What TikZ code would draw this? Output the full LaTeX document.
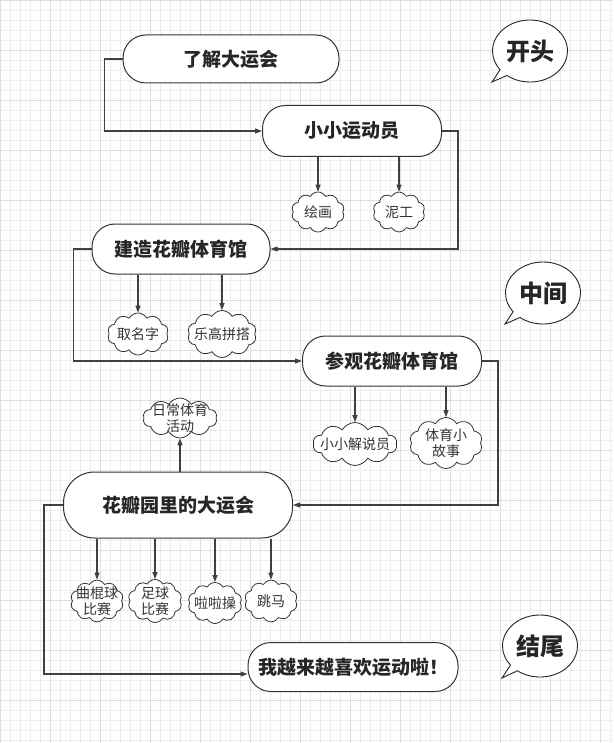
\documentclass[tikz,border=0pt]{standalone}
\usepackage{fontspec}
\setmainfont{Noto Sans CJK SC}
\usetikzlibrary{arrows.meta,shapes.symbols,shapes.callouts}
\begin{document}
\begin{tikzpicture}[x=1pt,y=-1pt,
  box/.style={draw=black!80, line width=1pt, fill=white, rounded corners=23pt, inner sep=0,
    text=black!85, font=\bfseries\fontsize{19}{21}\selectfont},
  puff/.style={cloud, cloud puffs=10, cloud puff arc=120, cloud ignores aspect, draw=black!80,
    line width=0.8pt, fill=white, inner sep=0, label={[pufftext]center:{#1}}},
  pufftext/.style={align=center, text=black!80, font=\fontsize{14}{16}\selectfont},
  bubble/.style={ellipse callout, draw=black!85, line width=0.9pt, fill=white,
    minimum width=75pt, minimum height=62pt, inner sep=0, text=black!85,
    font=\bfseries\fontsize{24}{26}\selectfont},
  link/.style={-{Triangle[length=7pt,width=5pt]}, draw=black!75, line width=1.1pt}]
\useasboundingbox (0,0) rectangle (613,743);
\fill[white] (0,0) rectangle (613,743);
\draw[gray!14, line width=0.4pt, xstep=10pt, ystep=10pt] (0,743) grid (613,0);
\draw[gray!26, line width=0.5pt, xstep=50pt, ystep=50pt] (0,743) grid (613,0);

\node[box, minimum width=216pt, minimum height=48pt] (intro) at (231,59) {了解大运会};
\node[box, minimum width=179pt, minimum height=51pt] (athlete) at (352,131) {小小运动员};
\node[box, minimum width=178pt, minimum height=50pt] (build) at (181,249) {建造花瓣体育馆};
\node[box, minimum width=179pt, minimum height=50pt] (visit) at (392,361) {参观花瓣体育馆};
\node[box, minimum width=229pt, minimum height=66pt, rounded corners=31pt] (games) at (178,505) {花瓣园里的大运会};
\node[box, minimum width=210pt, minimum height=49pt] (fin) at (353,667) {我越来越喜欢运动啦！};

\node[puff={绘画}, minimum width=53pt, minimum height=40pt] (paint) at (318,212) {};
\node[puff={泥工}, minimum width=52pt, minimum height=40pt] (clay) at (399,212) {};
\node[puff={取名字}, minimum width=61pt, minimum height=42pt] (naming) at (138,334) {};
\node[puff={乐高拼搭}, minimum width=69pt, minimum height=47pt] (lego) at (222,334) {};
\node[puff={小小解说员}, minimum width=84pt, minimum height=43pt] (guide) at (355,444) {};
\node[puff={体育小\\故事}, minimum width=73pt, minimum height=51pt] (story) at (446,443) {};
\node[puff={日常体育\\活动}, minimum width=74pt, minimum height=40pt] (daily) at (180,418) {};
\node[puff={曲棍球\\比赛}, pufftext/.append style={font=\fontsize{13}{15}\selectfont},
  minimum width=53pt, minimum height=42pt] (hockey) at (97,601) {};
\node[puff={足球\\比赛}, minimum width=54pt, minimum height=43pt] (soccer) at (155,601) {};
\node[puff={啦啦操}, pufftext/.append style={font=\fontsize{12}{14}\selectfont},
  minimum width=54pt, minimum height=41pt] (cheer) at (215,603) {};
\node[puff={跳马}, minimum width=53pt, minimum height=42pt] (vault) at (271,601) {};

\node[bubble, callout absolute pointer={(492,82)}] (opening) at (530,51) {开头};
\node[bubble, callout absolute pointer={(505,324)}] (middle) at (543,293) {中间};
\node[bubble, callout absolute pointer={(502,678)}] (ending) at (540,646) {结尾};

\draw[link] (intro.west) -- ++(-18,0) |- (athlete.west);
\draw[link] (athlete.south -| paint) -- (paint.north);
\draw[link] (athlete.south -| clay) -- (clay.north);
\draw[link] (athlete.east) -- ++(16,0) |- (build.east);
\draw[link] (build.south -| naming) -- (naming.north);
\draw[link] (build.south -| lego) -- (lego.north);
\draw[link] (build.west) -- ++(-18,0) |- (visit.west);
\draw[link] (visit.south -| guide) -- (guide.north);
\draw[link] (visit.south -| story) -- (story.north);
\draw[link] (visit.east) -- ++(16,0) |- (games.east);
\draw[link] (games.north -| daily) -- (daily.south);
\draw[link] (games.south -| hockey) -- (hockey.north);
\draw[link] (games.south -| soccer) -- (soccer.north);
\draw[link] (games.south -| cheer) -- (cheer.north);
\draw[link] (games.south -| vault) -- (vault.north);
\draw[link] (games.west) -- ++(-19,0) |- ([yshift=-7pt]fin.west);
\end{tikzpicture}
\end{document}
